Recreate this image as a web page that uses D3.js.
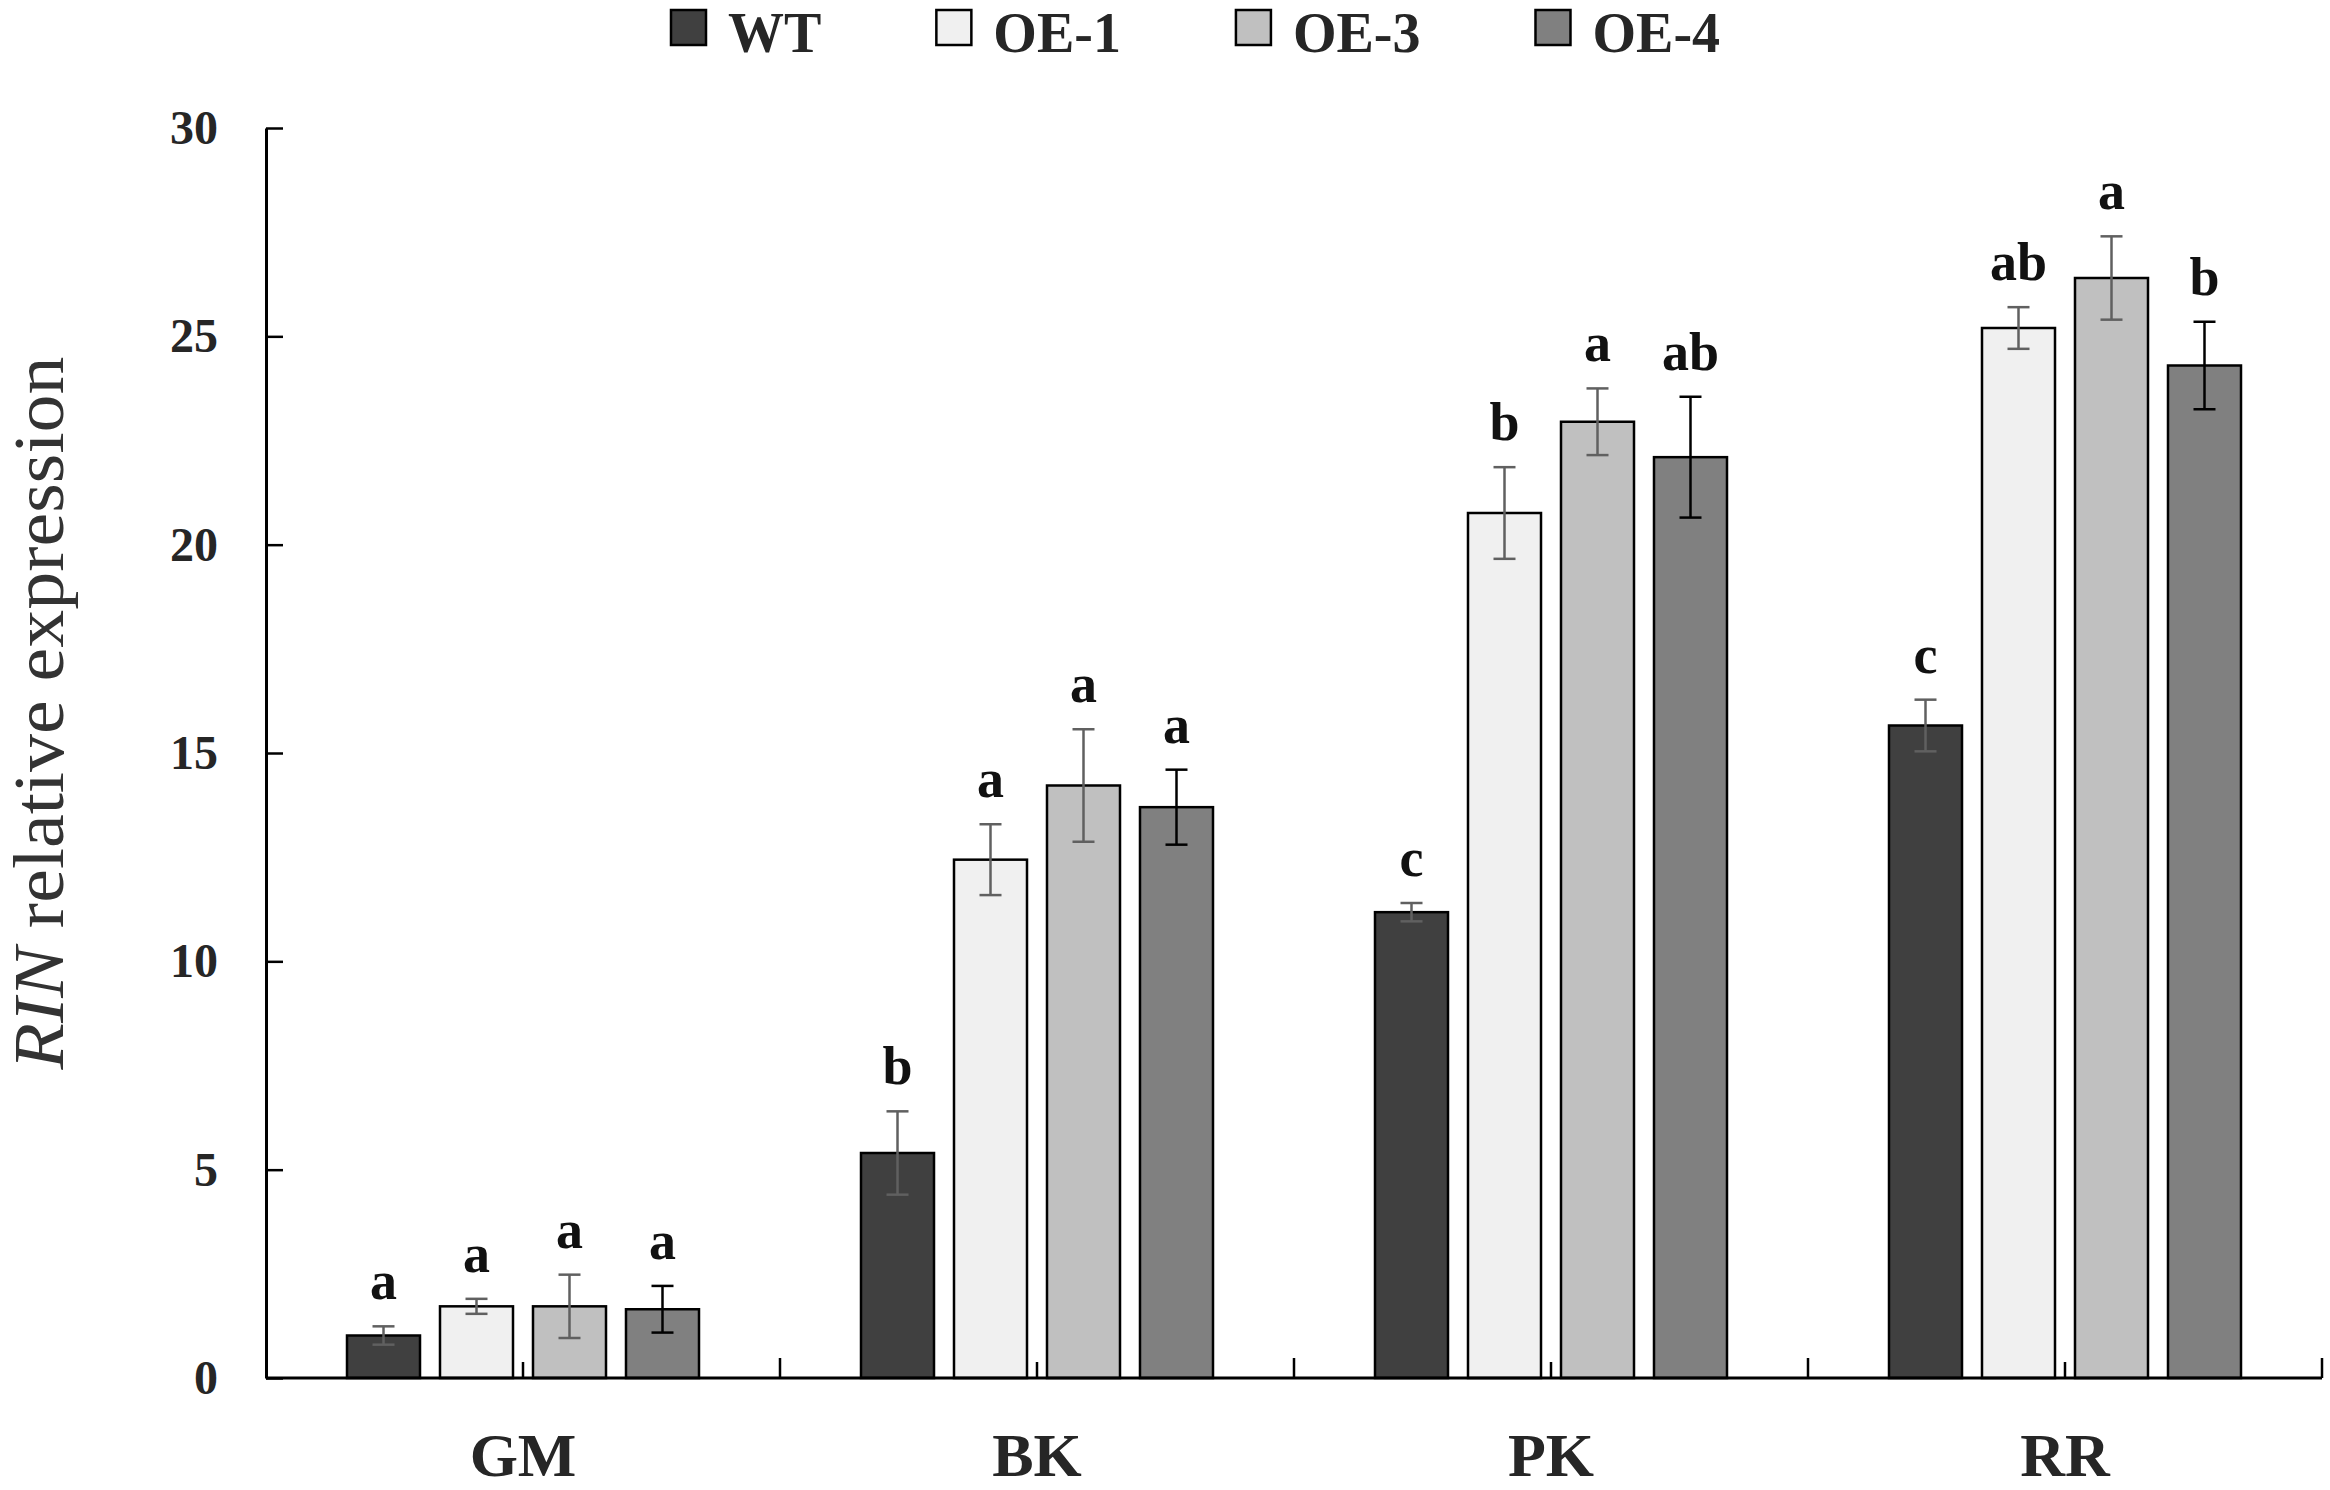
<!DOCTYPE html>
<html>
<head>
<meta charset="utf-8">
<script src="https://cdn.jsdelivr.net/npm/d3@7"></script>
<style>
  html, body { margin: 0; padding: 0; background: #fff; }
  svg text { font-family: "Liberation Serif", "Times New Roman", serif; fill: #262626; }
</style>
</head>
<body>
<div id="graph"></div>
<script>
// values
var categories = ["GM", "BK", "PK", "RR"];
var series = ["WT", "OE-1", "OE-3", "OE-4"];
var seriesColors = ["#404040", "#f0f0f0", "#c0c0c0", "#808080"];
var errColors = ["#606060", "#606060", "#606060", "#000000"];

var wtMean  = [1.02, 5.40, 11.18, 15.66];
var oe1Mean = [1.72, 12.44, 20.76, 25.20];
var oe3Mean = [1.72, 14.22, 22.95, 26.40];
var oe4Mean = [1.65, 13.70, 22.10, 24.30];

var wtErr  = [0.22, 1.00, 0.22, 0.62];
var oe1Err = [0.18, 0.85, 1.10, 0.50];
var oe3Err = [0.76, 1.35, 0.80, 1.00];
var oe4Err = [0.56, 0.90, 1.45, 1.05];

var wtSig  = ["a", "b", "c", "c"];
var oe1Sig = ["a", "a", "b", "ab"];
var oe3Sig = ["a", "a", "a", "a"];
var oe4Sig = ["a", "a", "ab", "b"];

var yTicks = [0, 5, 10, 15, 20, 25, 30];

var means = [wtMean, oe1Mean, oe3Mean, oe4Mean];
var errs = [wtErr, oe1Err, oe3Err, oe4Err];
var sigs = [wtSig, oe1Sig, oe3Sig, oe4Sig];

var rows = [];
categories.forEach(function(c, ci){
  series.forEach(function(s, si){
    rows.push({cat: c, ser: s, si: si, v: means[si][ci], e: errs[si][ci], sig: sigs[si][ci]});
  });
});

var width = 2330, height = 1490;
var plotLeft = 266, plotRight = 2322, plotBottom = 1378, plotTop = 128;

var svg = d3.select("#graph").append("svg")
  .attr("width", width)
  .attr("height", height);

var x = d3.scaleBand()
  .domain(categories)
  .range([plotLeft, plotRight]);

var xs = d3.scaleBand()
  .domain(series)
  .range([0, x.bandwidth()])
  .paddingInner(0.215)
  .paddingOuter(0.871);

var y = d3.scaleLinear()
  .domain([0, 30])
  .range([plotBottom, plotTop]);

// centre ticks of the category axis (behind the bars)
svg.append("g")
  .attr("transform", "translate(0," + plotBottom + ")")
  .call(d3.axisBottom(x).tickSize(-16).tickSizeOuter(0).tickFormat(""))
  .call(function(g){
    g.select(".domain").remove();
    g.selectAll("line").attr("stroke", "#000").attr("stroke-width", 2.5);
  });

// boundary ticks
var bounds = categories.slice(1).map(function(c){ return x(c); }).concat([plotRight]);
svg.append("g").selectAll("line")
  .data(bounds)
  .enter().append("line")
  .attr("x1", function(d){ return d; })
  .attr("x2", function(d){ return d; })
  .attr("y1", plotBottom)
  .attr("y2", plotBottom - 20)
  .attr("stroke", "#000")
  .attr("stroke-width", 2.5);

// bars
var grp = svg.append("g");
grp.selectAll("rect")
  .data(rows)
  .enter().append("rect")
  .attr("x", function(d){ return x(d.cat) + xs(d.ser); })
  .attr("y", function(d){ return y(d.v); })
  .attr("width", xs.bandwidth())
  .attr("height", function(d){ return y(0) - y(d.v); })
  .attr("fill", function(d){ return seriesColors[d.si]; })
  .attr("stroke", "#000")
  .attr("stroke-width", 2.5);

// error bars
var cap = 11;
var eb = svg.append("g").selectAll("g")
  .data(rows)
  .enter().append("g")
  .attr("stroke", function(d){ return errColors[d.si]; })
  .attr("stroke-width", 2.5);

eb.append("line")
  .attr("x1", function(d){ return x(d.cat) + xs(d.ser) + xs.bandwidth() / 2; })
  .attr("x2", function(d){ return x(d.cat) + xs(d.ser) + xs.bandwidth() / 2; })
  .attr("y1", function(d){ return y(d.v + d.e); })
  .attr("y2", function(d){ return y(d.v - d.e); });

[1, -1].forEach(function(sign){
  eb.append("line")
    .attr("x1", function(d){ return x(d.cat) + xs(d.ser) + xs.bandwidth() / 2 - cap; })
    .attr("x2", function(d){ return x(d.cat) + xs(d.ser) + xs.bandwidth() / 2 + cap; })
    .attr("y1", function(d){ return y(d.v + sign * d.e); })
    .attr("y2", function(d){ return y(d.v + sign * d.e); });
});

// significance letters
svg.append("g").selectAll("text")
  .data(rows)
  .enter().append("text")
  .attr("x", function(d){ return x(d.cat) + xs(d.ser) + xs.bandwidth() / 2; })
  .attr("y", function(d){ return y(d.v + d.e) - 27; })
  .attr("text-anchor", "middle")
  .style("font-size", "54px")
  .style("font-weight", "bold")
  .style("fill", "#111")
  .text(function(d){ return d.sig; });

// x axis line
svg.append("line")
  .attr("x1", plotLeft).attr("x2", plotRight)
  .attr("y1", plotBottom).attr("y2", plotBottom)
  .attr("stroke", "#000")
  .attr("stroke-width", 3);

// category labels
svg.append("g").selectAll("text")
  .data(categories)
  .enter().append("text")
  .attr("x", function(d){ return x(d) + x.bandwidth() / 2; })
  .attr("y", 1476)
  .attr("text-anchor", "middle")
  .style("font-size", "62px")
  .style("font-weight", "bold")
  .text(function(d){ return d; });

// y axis
svg.append("g")
  .attr("transform", "translate(" + plotLeft + ",0)")
  .call(d3.axisLeft(y).tickValues(yTicks).tickSize(-17).tickSizeOuter(0).tickPadding(48))
  .call(function(g){
    g.select(".domain").attr("stroke", "#000").attr("stroke-width", 3);
    g.selectAll("line").attr("stroke", "#000").attr("stroke-width", 2.5);
    g.selectAll("text")
      .style("font-family", "'Liberation Serif', serif")
      .style("font-size", "48px")
      .style("font-weight", "bold")
      .attr("fill", "#333");
  });

// y axis title
var title = svg.append("text")
  .attr("transform", "translate(63,713) rotate(-90)")
  .attr("text-anchor", "middle")
  .attr("textLength", 713)
  .attr("lengthAdjust", "spacingAndGlyphs")
  .style("font-size", "72px")
  .style("fill", "#333");
title.append("tspan").style("font-style", "italic").text("RIN");
title.append("tspan").text(" relative expression");

// legend
var legend = svg.append("g");
var lx = 671;
series.forEach(function(s, i){
  var item = legend.append("g").attr("transform", "translate(" + lx + ",0)");
  item.append("rect")
    .attr("x", 0).attr("y", 10)
    .attr("width", 35).attr("height", 35)
    .attr("fill", seriesColors[i])
    .attr("stroke", "#000")
    .attr("stroke-width", 2.5);
  var t = item.append("text")
    .attr("x", 57).attr("y", 52)
    .style("font-size", "56px")
    .style("font-weight", "bold")
    .text(s);
  lx += 57 + t.node().getComputedTextLength() + 115;
});
</script>
</body>
</html>
